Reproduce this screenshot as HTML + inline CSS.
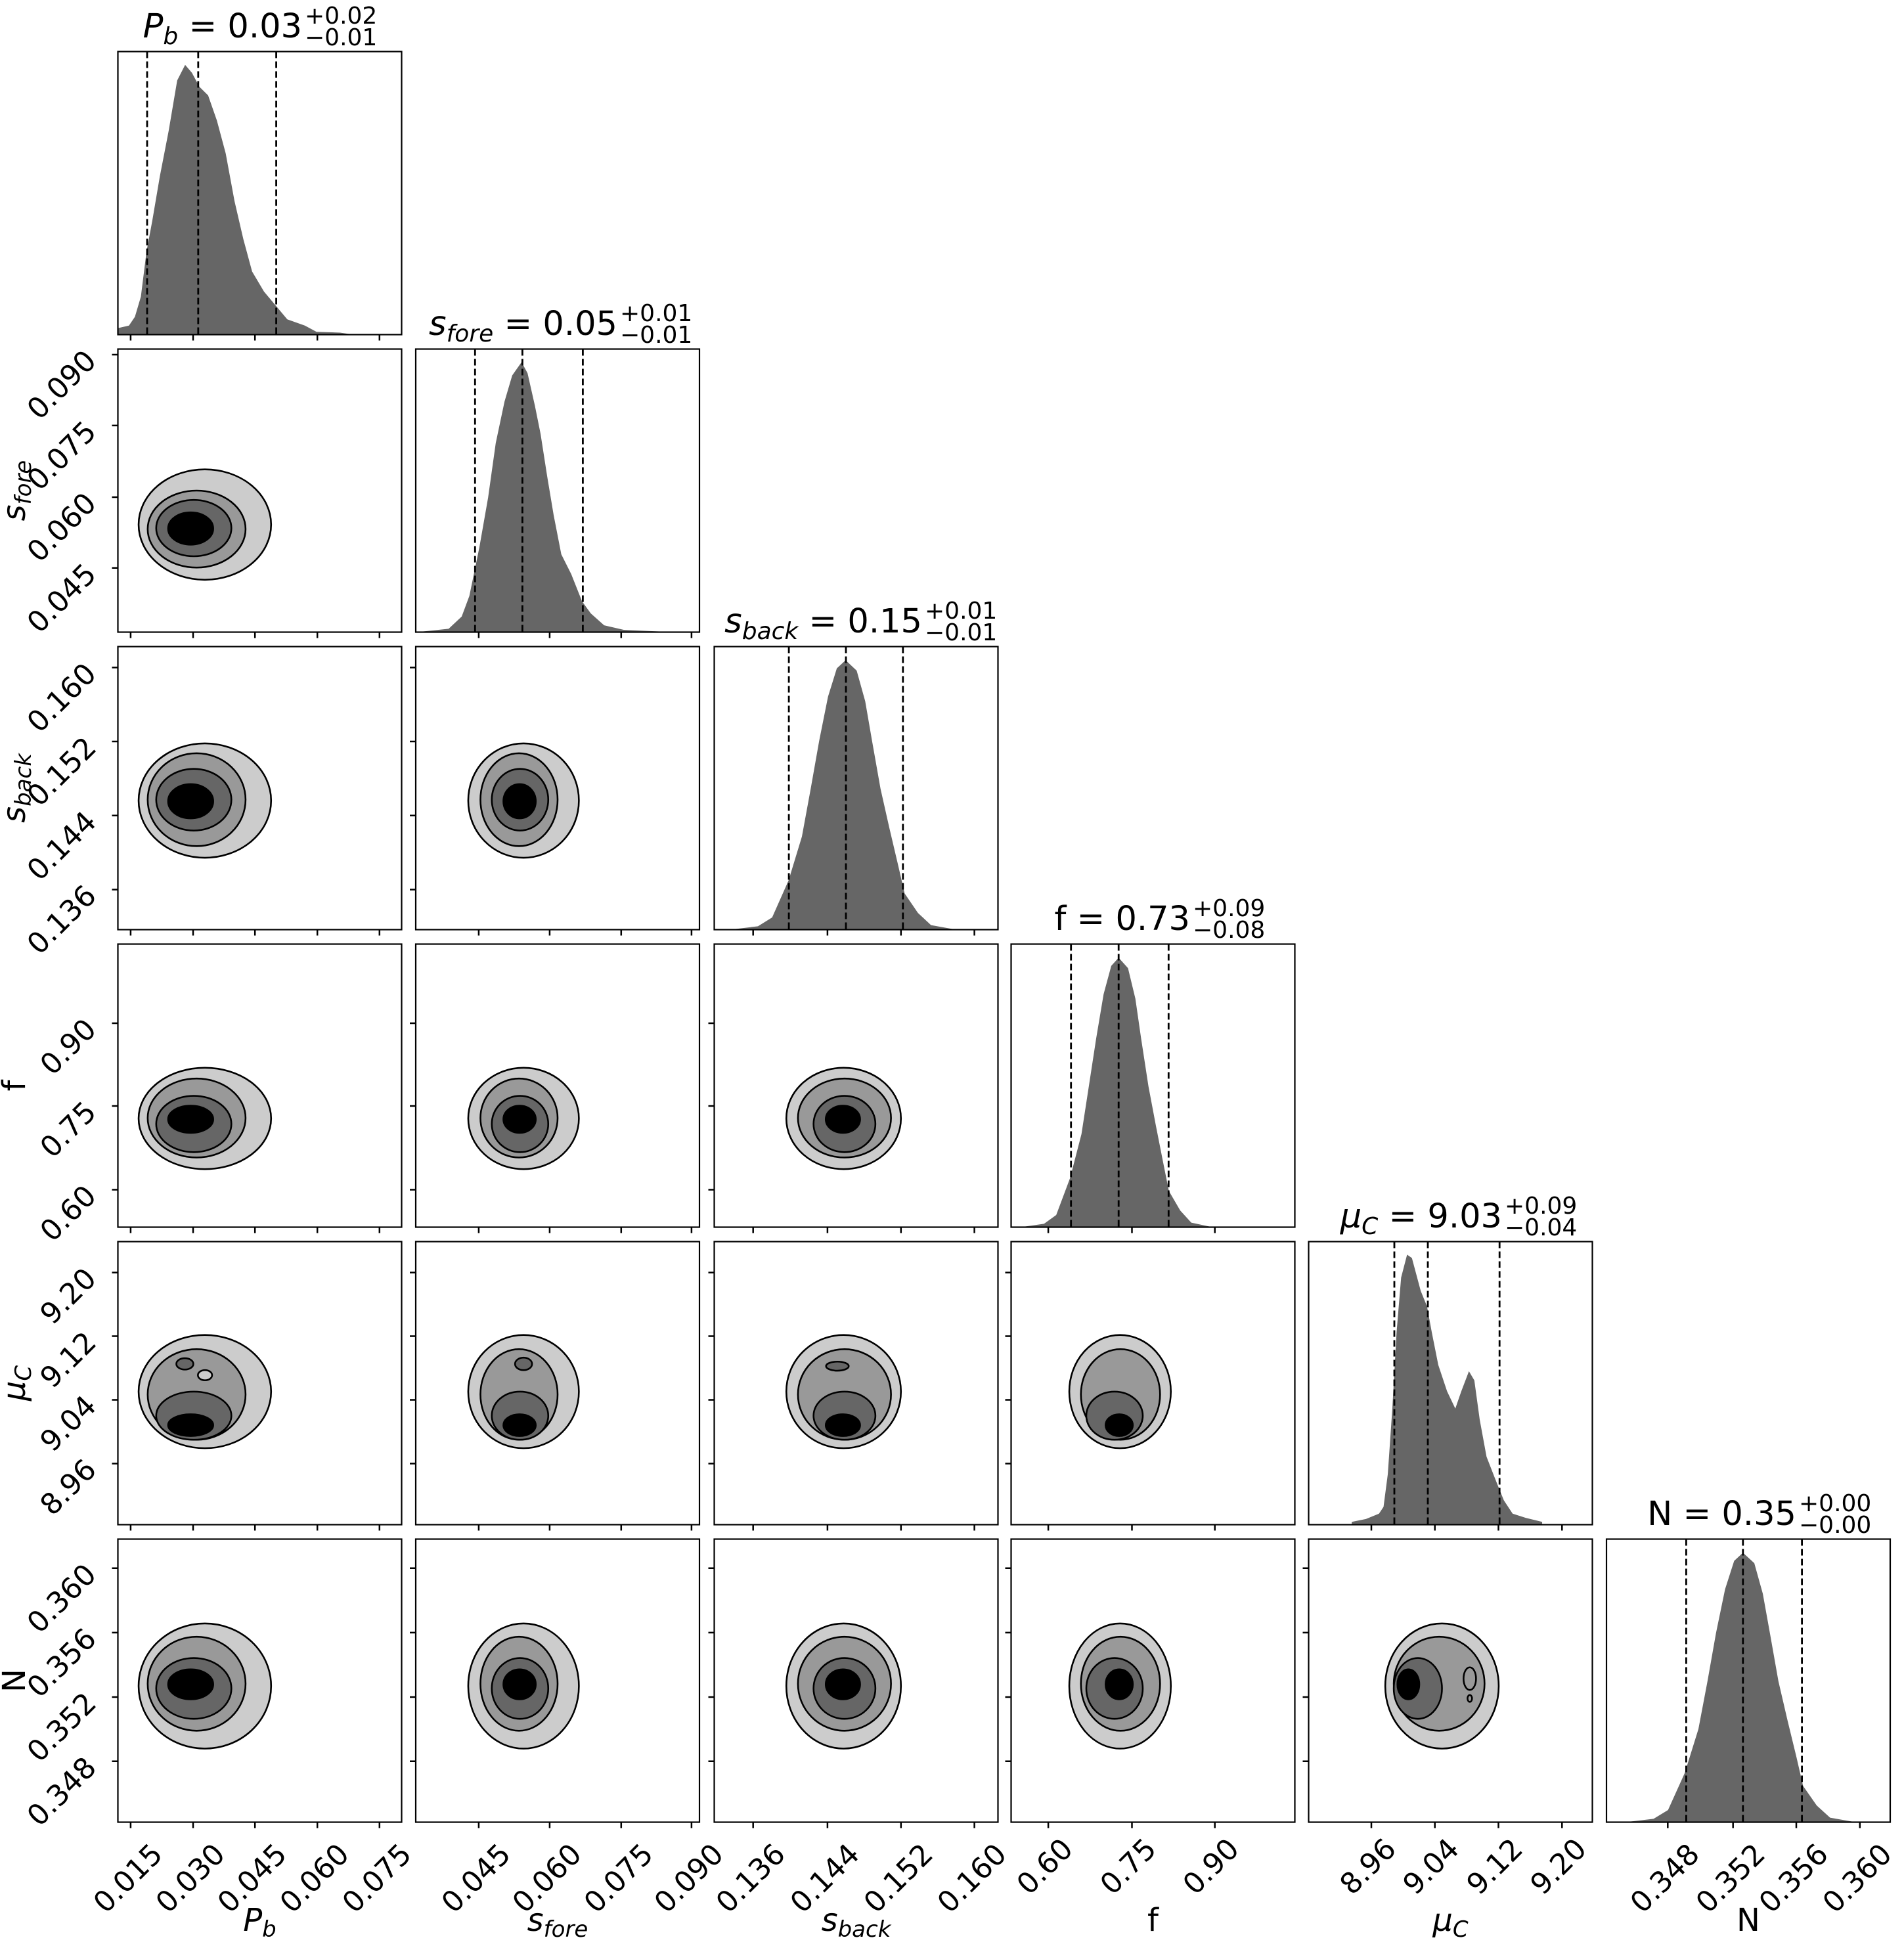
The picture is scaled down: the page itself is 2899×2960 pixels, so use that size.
<!DOCTYPE html>
<html><head><meta charset="utf-8">
<style>
html,body{margin:0;padding:0;background:#fff;}
svg text{font-family:"DejaVu Sans","Liberation Sans",sans-serif;fill:#000;}
.c ellipse{stroke:#000;stroke-width:2.6;vector-effect:non-scaling-stroke;}
.l1{fill:#cccccc}.l2{fill:#999999}.l3{fill:#666666}.l4{fill:#000000}
.fr{fill:none;stroke:#000;stroke-width:2.2}
.tk{stroke:#000;stroke-width:2.5}
.ds{stroke:#000;stroke-width:2.8;stroke-dasharray:10,5}
.h{fill:#666666}
.tl{font-size:44px}
</style></head>
<body>
<svg width="2899" height="2955" viewBox="0 0 2899 2955" xmlns="http://www.w3.org/2000/svg">
<rect width="2899" height="2955" fill="#fff"/>

<svg x="179.5" y="78.5" width="432" height="431" viewBox="0 0 100 100" preserveAspectRatio="none">
<polygon class="h" points="0,100 0,97.7 3.9,96.8 6,93.7 8.1,86.6 10.1,70.6 12.1,59.9 14.8,44 17.9,28 20.9,10.2 23.7,4.7 26.1,7.5 28.7,12.4 31.8,15.5 34.9,24.4 38,36 41.1,52.8 44.2,66.2 47.3,77.7 51.5,84.8 55.6,89.7 59.7,94.6 65.9,96.8 70,99 78.3,99.3 82.4,99.9 100,100"/>
</svg>
<svg x="633" y="531.5" width="432" height="431" viewBox="0 0 100 100" preserveAspectRatio="none">
<polygon class="h" points="2.3,100 2.3,99.8 11.6,98.8 16.2,94.5 18.9,87.2 22.4,70.2 25.5,52.5 28.2,33.2 31.3,18.5 34,9.3 37.3,4.6 39.4,8.5 42,20 44,30 46.3,44.8 48.6,58.6 51.3,72.5 54.8,79.5 58.6,89.1 61.7,93.4 66.4,97.6 73.3,99.2 86.4,99.8 86.4,100"/>
</svg>
<svg x="1087.5" y="984.5" width="432" height="431" viewBox="0 0 100 100" preserveAspectRatio="none">
<polygon class="h" points="7.3,100 7.3,99.8 15.4,98.8 20.4,95.7 26.2,82.6 30.9,67.1 34,50.2 37,33.2 40.1,17.7 43.2,7.7 46.3,4.8 50.2,8.5 53.2,19.3 55.6,33.2 58.6,50.2 61.7,64 64.8,77.2 67.1,87.2 71.8,94.1 76.4,98.4 84.1,99.8 84.1,100"/>
</svg>
<svg x="1539.5" y="1437.5" width="432" height="431" viewBox="0 0 100 100" preserveAspectRatio="none">
<polygon class="h" points="4.75,100 4.75,99.8 11.6,98.8 15.9,95.7 20.8,82.6 24.8,67.1 27.4,50.2 30,33.2 32.6,17.7 35.3,7.7 37.9,4.8 41.2,8.5 43.8,19.3 45.8,33.2 48.4,50.2 51,64 53.6,77.2 55.6,87.2 59.6,94.1 63.5,98.4 70,99.8 70,100"/>
</svg>
<svg x="1992.5" y="1890.5" width="432" height="431" viewBox="0 0 100 100" preserveAspectRatio="none">
<polygon class="h" points="15.2,100 15.2,99 20.2,98 24.8,96.1 26.4,93.7 27.9,82.2 29.5,59 31,32 32.6,12.7 34.7,4.6 36.4,5.8 39.5,17.4 41.7,22.8 43.4,32 45.7,43.6 48.8,52.9 51.7,59 53.8,52.9 56.5,45.8 58.4,49 60.3,62.9 62.7,76 65.7,83.7 68.8,91.4 71.9,96.1 76.5,97.6 82.3,99 82.3,100"/>
</svg>
<svg x="2446" y="2343.5" width="432" height="431" viewBox="0 0 100 100" preserveAspectRatio="none">
<polygon class="h" points="8.3,100 8.3,99.8 16.6,98.8 21.7,95.7 27.6,82.6 32.4,67.1 35.6,50.2 38.6,33.2 41.8,17.7 45,7.7 48.1,4.8 52.1,8.5 55.1,19.3 57.6,33.2 60.6,50.2 63.8,64 67,77.2 69.3,87.2 74.1,94.1 78.8,98.4 86.7,99.8 86.7,100"/>
</svg>

<svg class="c" x="179.5" y="531.5" width="432" height="431" viewBox="0 0 100 100" preserveAspectRatio="none">
<ellipse class="l1" cx="30.65" cy="62" rx="23.35" ry="19.5"/><ellipse class="l2" cx="27.75" cy="63.6" rx="17.25" ry="13.6"/><ellipse class="l3" cx="26.75" cy="63.25" rx="13.25" ry="9.95"/><ellipse class="l4" cx="25.65" cy="63.4" rx="7.95" ry="5.7"/>
</svg>
<svg class="c" x="179.5" y="984.5" width="432" height="431" viewBox="0 0 100 100" preserveAspectRatio="none">
<ellipse class="l1" cx="30.65" cy="54.4" rx="23.35" ry="20.2"/><ellipse class="l2" cx="27.75" cy="54.1" rx="17.25" ry="16.4"/><ellipse class="l3" cx="26.75" cy="54.1" rx="13.25" ry="10.9"/><ellipse class="l4" cx="25.65" cy="54.65" rx="7.95" ry="6.05"/>
</svg>
<svg class="c" x="633" y="984.5" width="432" height="431" viewBox="0 0 100 100" preserveAspectRatio="none">
<ellipse class="l1" cx="38" cy="54.4" rx="19.5" ry="20.2"/><ellipse class="l2" cx="36.4" cy="54.1" rx="13.6" ry="16.4"/><ellipse class="l3" cx="36.75" cy="54.1" rx="9.95" ry="10.9"/><ellipse class="l4" cx="36.6" cy="54.65" rx="5.7" ry="6.05"/>
</svg>
<svg class="c" x="179.5" y="1437.5" width="432" height="431" viewBox="0 0 100 100" preserveAspectRatio="none">
<ellipse class="l1" cx="30.65" cy="61.6" rx="23.35" ry="17.9"/><ellipse class="l2" cx="27.75" cy="61.45" rx="17.25" ry="13.95"/><ellipse class="l3" cx="26.75" cy="63.55" rx="13.25" ry="9.95"/><ellipse class="l4" cx="25.65" cy="61.9" rx="7.95" ry="4.8"/>
</svg>
<svg class="c" x="633" y="1437.5" width="432" height="431" viewBox="0 0 100 100" preserveAspectRatio="none">
<ellipse class="l1" cx="38" cy="61.6" rx="19.5" ry="17.9"/><ellipse class="l2" cx="36.4" cy="61.45" rx="13.6" ry="13.95"/><ellipse class="l3" cx="36.75" cy="63.55" rx="9.95" ry="9.95"/><ellipse class="l4" cx="36.6" cy="61.9" rx="5.7" ry="4.8"/>
</svg>
<svg class="c" x="1087.5" y="1437.5" width="432" height="431" viewBox="0 0 100 100" preserveAspectRatio="none">
<ellipse class="l1" cx="45.6" cy="61.6" rx="20.2" ry="17.9"/><ellipse class="l2" cx="45.9" cy="61.45" rx="16.4" ry="13.95"/><ellipse class="l3" cx="45.9" cy="63.55" rx="10.9" ry="9.95"/><ellipse class="l4" cx="45.35" cy="61.9" rx="6.05" ry="4.8"/>
</svg>
<svg class="c" x="179.5" y="1890.5" width="432" height="431" viewBox="0 0 100 100" preserveAspectRatio="none">
<ellipse class="l1" cx="30.65" cy="53" rx="23.35" ry="20"/><ellipse class="l2" cx="27.75" cy="54" rx="17.25" ry="16"/><ellipse class="l3" cx="26.75" cy="61.5" rx="13.25" ry="8.5"/><ellipse class="l4" cx="25.65" cy="64.85" rx="7.95" ry="3.85"/>
<ellipse class="l3" cx="23.6" cy="43.2" rx="3" ry="2"/><ellipse class="l1" cx="30.7" cy="47.2" rx="2.5" ry="1.8"/>
</svg>
<svg class="c" x="633" y="1890.5" width="432" height="431" viewBox="0 0 100 100" preserveAspectRatio="none">
<ellipse class="l1" cx="38" cy="53" rx="19.5" ry="20"/><ellipse class="l2" cx="36.4" cy="54" rx="13.6" ry="16"/><ellipse class="l3" cx="36.75" cy="61.5" rx="9.95" ry="8.5"/><ellipse class="l4" cx="36.6" cy="64.85" rx="5.7" ry="3.85"/>
<ellipse class="l3" cx="38" cy="43.2" rx="3" ry="2.2"/>
</svg>
<svg class="c" x="1087.5" y="1890.5" width="432" height="431" viewBox="0 0 100 100" preserveAspectRatio="none">
<ellipse class="l1" cx="45.6" cy="53" rx="20.2" ry="20"/><ellipse class="l2" cx="45.9" cy="54" rx="16.4" ry="16"/><ellipse class="l3" cx="45.9" cy="61.5" rx="10.9" ry="8.5"/><ellipse class="l4" cx="45.35" cy="64.85" rx="6.05" ry="3.85"/>
<ellipse class="l3" cx="43.4" cy="44" rx="4" ry="1.6"/>
</svg>
<svg class="c" x="1539.5" y="1890.5" width="432" height="431" viewBox="0 0 100 100" preserveAspectRatio="none">
<ellipse class="l1" cx="38.4" cy="53" rx="17.9" ry="20"/><ellipse class="l2" cx="38.55" cy="54" rx="13.95" ry="16"/><ellipse class="l3" cx="36.45" cy="61.5" rx="9.95" ry="8.5"/><ellipse class="l4" cx="38.1" cy="64.85" rx="4.8" ry="3.85"/>
</svg>
<svg class="c" x="179.5" y="2343.5" width="432" height="431" viewBox="0 0 100 100" preserveAspectRatio="none">
<ellipse class="l1" cx="30.65" cy="51.9" rx="23.35" ry="22.1"/><ellipse class="l2" cx="27.75" cy="51.1" rx="17.25" ry="16.6"/><ellipse class="l3" cx="26.75" cy="52.75" rx="13.25" ry="10.75"/><ellipse class="l4" cx="25.65" cy="51.3" rx="7.95" ry="5.3"/>
</svg>
<svg class="c" x="633" y="2343.5" width="432" height="431" viewBox="0 0 100 100" preserveAspectRatio="none">
<ellipse class="l1" cx="38" cy="51.9" rx="19.5" ry="22.1"/><ellipse class="l2" cx="36.4" cy="51.1" rx="13.6" ry="16.6"/><ellipse class="l3" cx="36.75" cy="52.75" rx="9.95" ry="10.75"/><ellipse class="l4" cx="36.6" cy="51.3" rx="5.7" ry="5.3"/>
</svg>
<svg class="c" x="1087.5" y="2343.5" width="432" height="431" viewBox="0 0 100 100" preserveAspectRatio="none">
<ellipse class="l1" cx="45.6" cy="51.9" rx="20.2" ry="22.1"/><ellipse class="l2" cx="45.9" cy="51.1" rx="16.4" ry="16.6"/><ellipse class="l3" cx="45.9" cy="52.75" rx="10.9" ry="10.75"/><ellipse class="l4" cx="45.35" cy="51.3" rx="6.05" ry="5.3"/>
</svg>
<svg class="c" x="1539.5" y="2343.5" width="432" height="431" viewBox="0 0 100 100" preserveAspectRatio="none">
<ellipse class="l1" cx="38.4" cy="51.9" rx="17.9" ry="22.1"/><ellipse class="l2" cx="38.55" cy="51.1" rx="13.95" ry="16.6"/><ellipse class="l3" cx="36.45" cy="52.75" rx="9.95" ry="10.75"/><ellipse class="l4" cx="38.1" cy="51.3" rx="4.8" ry="5.3"/>
</svg>
<svg class="c" x="1992.5" y="2343.5" width="432" height="431" viewBox="0 0 100 100" preserveAspectRatio="none">
<ellipse class="l1" cx="47" cy="51.9" rx="20" ry="22.1"/><ellipse class="l2" cx="46" cy="51.1" rx="16" ry="16.6"/><ellipse class="l3" cx="38.5" cy="52.75" rx="8.5" ry="10.75"/><ellipse class="l4" cx="35.15" cy="51.3" rx="3.85" ry="5.3"/>
<ellipse class="l2" cx="56.8" cy="49.3" rx="2.2" ry="4"/><ellipse class="l2" cx="56.8" cy="56.3" rx="0.8" ry="1.2"/>
</svg>

<g class="fr">
<rect x="179.5" y="78.5" width="432" height="431"/>
<rect x="179.5" y="531.5" width="432" height="431"/><rect x="633" y="531.5" width="432" height="431"/>
<rect x="179.5" y="984.5" width="432" height="431"/><rect x="633" y="984.5" width="432" height="431"/><rect x="1087.5" y="984.5" width="432" height="431"/>
<rect x="179.5" y="1437.5" width="432" height="431"/><rect x="633" y="1437.5" width="432" height="431"/><rect x="1087.5" y="1437.5" width="432" height="431"/><rect x="1539.5" y="1437.5" width="432" height="431"/>
<rect x="179.5" y="1890.5" width="432" height="431"/><rect x="633" y="1890.5" width="432" height="431"/><rect x="1087.5" y="1890.5" width="432" height="431"/><rect x="1539.5" y="1890.5" width="432" height="431"/><rect x="1992.5" y="1890.5" width="432" height="431"/>
<rect x="179.5" y="2343.5" width="432" height="431"/><rect x="633" y="2343.5" width="432" height="431"/><rect x="1087.5" y="2343.5" width="432" height="431"/><rect x="1539.5" y="2343.5" width="432" height="431"/><rect x="1992.5" y="2343.5" width="432" height="431"/><rect x="2446" y="2343.5" width="432" height="431"/>
</g>

<g class="ds">
<line x1="224" y1="78.5" x2="224" y2="509.5"/><line x1="301.8" y1="78.5" x2="301.8" y2="509.5"/><line x1="420.6" y1="78.5" x2="420.6" y2="509.5"/>
<line x1="723.3" y1="531.5" x2="723.3" y2="962.5"/><line x1="795.4" y1="531.5" x2="795.4" y2="962.5"/><line x1="887.4" y1="531.5" x2="887.4" y2="962.5"/>
<line x1="1201.1" y1="984.5" x2="1201.1" y2="1415.5"/><line x1="1288" y1="984.5" x2="1288" y2="1415.5"/><line x1="1374.8" y1="984.5" x2="1374.8" y2="1415.5"/>
<line x1="1630.7" y1="1437.5" x2="1630.7" y2="1868.5"/><line x1="1703.2" y1="1437.5" x2="1703.2" y2="1868.5"/><line x1="1779.3" y1="1437.5" x2="1779.3" y2="1868.5"/>
<line x1="2123" y1="1890.5" x2="2123" y2="2321.5"/><line x1="2174" y1="1890.5" x2="2174" y2="2321.5"/><line x1="2283.2" y1="1890.5" x2="2283.2" y2="2321.5"/>
<line x1="2567.4" y1="2343.5" x2="2567.4" y2="2774.5"/><line x1="2653.8" y1="2343.5" x2="2653.8" y2="2774.5"/><line x1="2743.6" y1="2343.5" x2="2743.6" y2="2774.5"/>
</g>

<g class="tk">
<path d="M198.9 509.5v9M294 509.5v9M388.2 509.5v9M483.2 509.5v9M577.8 509.5v9
M198.9 962.5v9M294 962.5v9M388.2 962.5v9M483.2 962.5v9M577.8 962.5v9
M198.9 1415.5v9M294 1415.5v9M388.2 1415.5v9M483.2 1415.5v9M577.8 1415.5v9
M198.9 1868.5v9M294 1868.5v9M388.2 1868.5v9M483.2 1868.5v9M577.8 1868.5v9
M198.9 2321.5v9M294 2321.5v9M388.2 2321.5v9M483.2 2321.5v9M577.8 2321.5v9
M198.9 2774.5v9M294 2774.5v9M388.2 2774.5v9M483.2 2774.5v9M577.8 2774.5v9"/>
<path d="M728.9 962.5v9M836.9 962.5v9M945.8 962.5v9M1052.9 962.5v9
M728.9 1415.5v9M836.9 1415.5v9M945.8 1415.5v9M1052.9 1415.5v9
M728.9 1868.5v9M836.9 1868.5v9M945.8 1868.5v9M1052.9 1868.5v9
M728.9 2321.5v9M836.9 2321.5v9M945.8 2321.5v9M1052.9 2321.5v9
M728.9 2774.5v9M836.9 2774.5v9M945.8 2774.5v9M1052.9 2774.5v9"/>
<path d="M1146.7 1415.5v9M1259.9 1415.5v9M1371.8 1415.5v9M1483.6 1415.5v9
M1146.7 1868.5v9M1259.9 1868.5v9M1371.8 1868.5v9M1483.6 1868.5v9
M1146.7 2321.5v9M1259.9 2321.5v9M1371.8 2321.5v9M1483.6 2321.5v9
M1146.7 2774.5v9M1259.9 2774.5v9M1371.8 2774.5v9M1483.6 2774.5v9"/>
<path d="M1596.1 1868.5v9M1723.5 1868.5v9M1849.7 1868.5v9
M1596.1 2321.5v9M1723.5 2321.5v9M1849.7 2321.5v9
M1596.1 2774.5v9M1723.5 2774.5v9M1849.7 2774.5v9"/>
<path d="M2088 2321.5v9M2184.7 2321.5v9M2281.5 2321.5v9M2378.3 2321.5v9
M2088 2774.5v9M2184.7 2774.5v9M2281.5 2774.5v9M2378.3 2774.5v9"/>
<path d="M2539.3 2774.5v9M2638.7 2774.5v9M2735 2774.5v9M2831.8 2774.5v9"/>
<path d="M179.5 540h-9M179.5 647.9h-9M179.5 757h-9M179.5 864.8h-9"/>
<path d="M179.5 1016.4h-9M179.5 1129h-9M179.5 1241.8h-9M179.5 1354.5h-9
M633 1016.4h-9M633 1129h-9M633 1241.8h-9M633 1354.5h-9"/>
<path d="M179.5 1558h-9M179.5 1684h-9M179.5 1811.5h-9
M633 1558h-9M633 1684h-9M633 1811.5h-9
M1087.5 1558h-9M1087.5 1684h-9M1087.5 1811.5h-9"/>
<path d="M179.5 1937.6h-9M179.5 2034.5h-9M179.5 2131.5h-9M179.5 2228.5h-9
M633 1937.6h-9M633 2034.5h-9M633 2131.5h-9M633 2228.5h-9
M1087.5 1937.6h-9M1087.5 2034.5h-9M1087.5 2131.5h-9M1087.5 2228.5h-9
M1539.5 1937.6h-9M1539.5 2034.5h-9M1539.5 2131.5h-9M1539.5 2228.5h-9"/>
<path d="M179.5 2387.7h-9M179.5 2485.9h-9M179.5 2584h-9M179.5 2681.8h-9
M633 2387.7h-9M633 2485.9h-9M633 2584h-9M633 2681.8h-9
M1087.5 2387.7h-9M1087.5 2485.9h-9M1087.5 2584h-9M1087.5 2681.8h-9
M1539.5 2387.7h-9M1539.5 2485.9h-9M1539.5 2584h-9M1539.5 2681.8h-9
M1992.5 2387.7h-9M1992.5 2485.9h-9M1992.5 2584h-9M1992.5 2681.8h-9"/>
</g>

<g font-size="51">
<text x="460" y="57" text-anchor="end"><tspan font-style="italic">P</tspan><tspan font-style="italic" font-size="36" dy="10">b</tspan><tspan dy="-10"> = 0.03</tspan></text>
<text x="940" y="510" text-anchor="end"><tspan font-style="italic">s</tspan><tspan font-style="italic" font-size="36" dy="10">fore</tspan><tspan dy="-10"> = 0.05</tspan></text>
<text x="1404" y="963" text-anchor="end"><tspan font-style="italic">s</tspan><tspan font-style="italic" font-size="36" dy="10">back</tspan><tspan dy="-10"> = 0.15</tspan></text>
<text x="1812" y="1416" text-anchor="end">f = 0.73</text>
<text x="2287" y="1869" text-anchor="end"><tspan font-style="italic">μ</tspan><tspan font-style="italic" font-size="36" dy="10">C</tspan><tspan dy="-10"> = 9.03</tspan></text>
<text x="2735" y="2322" text-anchor="end">N = 0.35</text>
</g>
<g font-size="36">
<text x="464" y="36">+0.02</text><text x="464" y="69">−0.01</text>
<text x="944" y="489">+0.01</text><text x="944" y="522">−0.01</text>
<text x="1408" y="942">+0.01</text><text x="1408" y="975">−0.01</text>
<text x="1816" y="1395">+0.09</text><text x="1816" y="1428">−0.08</text>
<text x="2291" y="1848">+0.09</text><text x="2291" y="1881">−0.04</text>
<text x="2739" y="2301">+0.00</text><text x="2739" y="2334">−0.00</text>
</g>

<g font-size="48" text-anchor="middle">
<text x="395.5" y="2940"><tspan font-style="italic">P</tspan><tspan font-style="italic" font-size="34" dy="9">b</tspan></text>
<text x="849" y="2940"><tspan font-style="italic">s</tspan><tspan font-style="italic" font-size="34" dy="9">fore</tspan></text>
<text x="1303.5" y="2940"><tspan font-style="italic">s</tspan><tspan font-style="italic" font-size="34" dy="9">back</tspan></text>
<text x="1755.5" y="2940">f</text>
<text x="2208.5" y="2940"><tspan font-style="italic">μ</tspan><tspan font-style="italic" font-size="34" dy="9">C</tspan></text>
<text x="2662" y="2940">N</text>
<text transform="translate(38 747) rotate(-90)"><tspan font-style="italic">s</tspan><tspan font-style="italic" font-size="34" dy="9">fore</tspan></text>
<text transform="translate(38 1200) rotate(-90)"><tspan font-style="italic">s</tspan><tspan font-style="italic" font-size="34" dy="9">back</tspan></text>
<text transform="translate(38 1653) rotate(-90)">f</text>
<text transform="translate(38 2106) rotate(-90)"><tspan font-style="italic">μ</tspan><tspan font-style="italic" font-size="34" dy="9">C</tspan></text>
<text transform="translate(38 2559) rotate(-90)">N</text>
</g>

<g class="tl" text-anchor="end">
<text transform="translate(250 2826) rotate(-45)">0.015</text>
<text transform="translate(345 2826) rotate(-45)">0.030</text>
<text transform="translate(439 2826) rotate(-45)">0.045</text>
<text transform="translate(534 2826) rotate(-45)">0.060</text>
<text transform="translate(629 2826) rotate(-45)">0.075</text>
<text transform="translate(780 2826) rotate(-45)">0.045</text>
<text transform="translate(888 2826) rotate(-45)">0.060</text>
<text transform="translate(997 2826) rotate(-45)">0.075</text>
<text transform="translate(1104 2826) rotate(-45)">0.090</text>
<text transform="translate(1198 2826) rotate(-45)">0.136</text>
<text transform="translate(1311 2826) rotate(-45)">0.144</text>
<text transform="translate(1423 2826) rotate(-45)">0.152</text>
<text transform="translate(1535 2826) rotate(-45)">0.160</text>
<text transform="translate(1636 2818) rotate(-45)">0.60</text>
<text transform="translate(1763 2818) rotate(-45)">0.75</text>
<text transform="translate(1889 2818) rotate(-45)">0.90</text>
<text transform="translate(2128 2818) rotate(-45)">8.96</text>
<text transform="translate(2224 2818) rotate(-45)">9.04</text>
<text transform="translate(2321 2818) rotate(-45)">9.12</text>
<text transform="translate(2418 2818) rotate(-45)">9.20</text>
<text transform="translate(2590 2826) rotate(-45)">0.348</text>
<text transform="translate(2690 2826) rotate(-45)">0.352</text>
<text transform="translate(2786 2826) rotate(-45)">0.356</text>
<text transform="translate(2883 2826) rotate(-45)">0.360</text>
<text transform="translate(149 552) rotate(-45)">0.090</text>
<text transform="translate(149 660) rotate(-45)">0.075</text>
<text transform="translate(149 769) rotate(-45)">0.060</text>
<text transform="translate(149 877) rotate(-45)">0.045</text>
<text transform="translate(149 1028.5) rotate(-45)">0.160</text>
<text transform="translate(149 1141) rotate(-45)">0.152</text>
<text transform="translate(149 1254) rotate(-45)">0.144</text>
<text transform="translate(149 1366.5) rotate(-45)">0.136</text>
<text transform="translate(149 1570) rotate(-45)">0.90</text>
<text transform="translate(149 1696) rotate(-45)">0.75</text>
<text transform="translate(149 1823.5) rotate(-45)">0.60</text>
<text transform="translate(149 1949.5) rotate(-45)">9.20</text>
<text transform="translate(149 2046.5) rotate(-45)">9.12</text>
<text transform="translate(149 2143.5) rotate(-45)">9.04</text>
<text transform="translate(149 2240.5) rotate(-45)">8.96</text>
<text transform="translate(149 2400) rotate(-45)">0.360</text>
<text transform="translate(149 2498) rotate(-45)">0.356</text>
<text transform="translate(149 2596) rotate(-45)">0.352</text>
<text transform="translate(149 2694) rotate(-45)">0.348</text>
</g>
</svg>
</body></html>
